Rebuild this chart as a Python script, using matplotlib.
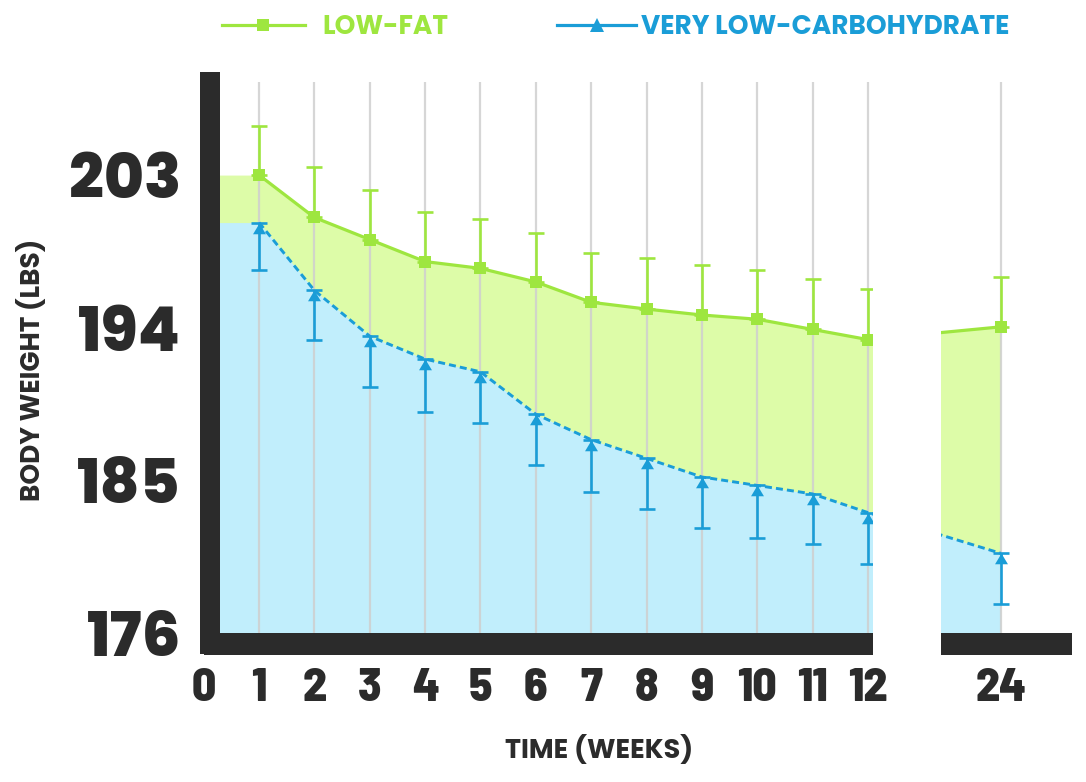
import numpy as np
import matplotlib
matplotlib.use("Agg")
import matplotlib.pyplot as plt
from matplotlib.lines import Line2D
from matplotlib import font_manager as fm

# ---------------- data ----------------
weeks = [1, 2, 3, 4, 5, 6, 7, 8, 9, 10, 11, 12, 24]
tick_weeks = [0, 1, 2, 3, 4, 5, 6, 7, 8, 9, 10, 11, 12, 24]
low_fat = [203.0, 200.5, 199.2, 197.9, 197.5, 196.7, 195.5, 195.1, 194.75, 194.5, 193.9, 193.3, 194.05]
low_fat_err = [2.9, 2.95, 2.9, 2.9, 2.9, 2.9, 2.9, 3.0, 2.95, 2.9, 3.0, 3.0, 2.95]
vlc = [200.2, 196.2, 193.5, 192.15, 191.4, 188.9, 187.4, 186.3, 185.2, 184.7, 184.2, 183.1, 180.7]
vlc_err = [2.8, 2.9, 3.0, 3.1, 3.0, 3.0, 3.1, 3.0, 3.0, 3.1, 2.95, 3.05, 3.0]
y_ticks = [176, 185, 194, 203]
series_labels = ["LOW-FAT", "VERY LOW-CARBOHYDRATE"]
x_label = "TIME (WEEKS)"
y_label = "BODY WEIGHT (LBS)"

# ---------------- style ----------------
GREEN = "#9ee63f"
GREEN_FILL = "#ddfca8"
BLUE = "#1a9dd7"
BLUE_FILL = "#c1eefc"
DARK = "#2b2b2b"
GRID = "#cfcfcf"


def _w(f):
    try:
        return int(f.weight)
    except (TypeError, ValueError):
        return {"bold": 700, "heavy": 800, "black": 900, "extra bold": 800,
                "semibold": 600, "demibold": 600}.get(str(f.weight).lower(), 400)


def pick(cands, min_weight):
    for c in cands:
        if any(f.name == c and _w(f) >= min_weight and f.style == "normal"
               for f in fm.fontManager.ttflist):
            return [c, "DejaVu Sans"]
    return ["DejaVu Sans"]


GEO_HEAVY = pick(["Montserrat", "Poppins", "Lato", "Open Sans"], 800)
GEO_BOLD = pick(["Montserrat", "Poppins", "Lato", "Open Sans"], 700)
COND = pick(["Barlow Semi Condensed", "Barlow Condensed", "Roboto Condensed",
             "IBM Plex Sans Condensed", "Open Sans Condensed"], 700)

K = 0.1998  # compression of the weeks after 12 (broken axis)


def fwd(x):
    x = np.asarray(x, dtype=float)
    return np.where(x <= 12, x, 12 + (x - 12) * K)


def inv(y):
    y = np.asarray(y, dtype=float)
    return np.where(y <= 12, y, 12 + (y - 12) / K)


fig = plt.figure(figsize=(10.86, 7.82), dpi=100)
W, H = 1086, 782
ax_l, ax_r, ax_t, ax_b = 203.7, 1072, 82, 644
ax = fig.add_axes([ax_l / W, 1 - ax_b / H, (ax_r - ax_l) / W, (ax_b - ax_t) / H])
ax.set_xscale("function", functions=(fwd, inv))

y_bottom = 176 - 11 / 16.96
y_top = 176 + (633 - 82) / 16.96
x_right = 12 + ((ax_r - ax_l) / 55.35 - 12) / K
ax.set_ylim(y_bottom, y_top)
ax.set_xlim(0, x_right)

# fills (the first value is held back to week 0)
fill_x = [0] + weeks
ax.fill_between(fill_x, [low_fat[0]] + low_fat, y_bottom, color=GREEN_FILL, lw=0, zorder=1)
ax.fill_between(fill_x, [vlc[0]] + vlc, y_bottom, color=BLUE_FILL, lw=0, zorder=1.1)

# error bars
zeros = np.zeros(len(weeks))
ax.errorbar(weeks, low_fat, yerr=[zeros, low_fat_err], fmt="none", ecolor=GREEN,
            elinewidth=1.9, capsize=5.5, capthick=1.9, zorder=2.4)
ax.errorbar(weeks, vlc, yerr=[vlc_err, zeros], fmt="none", ecolor=BLUE,
            elinewidth=1.9, capsize=5.5, capthick=1.9, zorder=2.4)

# lines
ax.plot(weeks, low_fat, color=GREEN, lw=2.3, marker="s", ms=8.6, mew=0, zorder=3)
tri_down = [(0, 0), (0.6, -1.0), (-0.6, -1.0), (0, 0)]
ax.plot(weeks, vlc, color=BLUE, lw=2.1, dashes=(2.4, 1.4), zorder=3)
ax.plot(weeks, vlc, color=BLUE, lw=0, marker=tri_down, ms=15.5, mew=0, zorder=3.1)

# grid
ax.set_xticks(tick_weeks)
ax.set_xticklabels([str(w) for w in tick_weeks])
ax.set_yticks(y_ticks)
ax.grid(axis="x", color=GRID, lw=1.6, alpha=0.85, zorder=1.5)
ax.grid(axis="y", visible=False)

# spines
for s in ["top", "right"]:
    ax.spines[s].set_visible(False)
ax.spines["left"].set_linewidth(20 * 72 / 100)
ax.spines["left"].set_color(DARK)
ax.spines["left"].set_capstyle("projecting")
ax.spines["left"].set_position(("outward", -6.3 * 72 / 100))
ax.spines["bottom"].set_linewidth(22 * 72 / 100)
ax.spines["bottom"].set_color(DARK)
ax.spines["bottom"].set_capstyle("butt")
ax.spines["left"].set_zorder(5)
ax.spines["bottom"].set_zorder(5)

ax.tick_params(axis="both", length=0)
ax.tick_params(axis="y", pad=21)
ax.tick_params(axis="x", pad=17)
for t in ax.get_yticklabels():
    t.set_fontfamily(GEO_HEAVY)
    t.set_fontweight("heavy")
    t.set_fontsize(44)
    t.set_color(DARK)
for t in ax.get_xticklabels():
    t.set_fontfamily(COND)
    t.set_fontweight("heavy")
    t.set_fontsize(34)
    t.set_color(DARK)

# break of the axis
ax.axvspan(12.49, 18.6, ymin=-0.03, ymax=1.0, color="white", lw=0, zorder=10, clip_on=False)

# axis titles
fig.text(32 / W, 1 - 370 / H, y_label, rotation=90, ha="center", va="center",
         fontfamily=GEO_BOLD, fontweight="bold", fontsize=19, color=DARK)
fig.text(599 / W, 1 - 758 / H, x_label, ha="center", va="baseline",
         fontfamily=GEO_BOLD, fontweight="bold", fontsize=19.5, color=DARK)

# legend (two entries, each placed on its own)
leg_prop = {"family": GEO_BOLD, "weight": "bold", "size": 19}
h1 = Line2D([], [], color=GREEN, lw=2.3, marker="s", ms=9, mew=0)
h2 = Line2D([], [], color=BLUE, lw=2.3, marker="^", ms=10, mew=0)
leg1 = fig.legend([h1], series_labels[:1], loc="center left",
                  bbox_to_anchor=(222 / W, 1 - 28 / H), frameon=False,
                  handlelength=3.14, handletextpad=0.68,
                  borderpad=0, borderaxespad=0, prop=leg_prop)
leg2 = fig.legend([h2], series_labels[1:], loc="center left",
                  bbox_to_anchor=(557 / W, 1 - 28 / H), frameon=False,
                  handlelength=3.0, handletextpad=0.2,
                  borderpad=0, borderaxespad=0, prop=leg_prop)
leg1.get_texts()[0].set_color(GREEN)
leg2.get_texts()[0].set_color(BLUE)

fig.savefig("out.png", dpi=100)
